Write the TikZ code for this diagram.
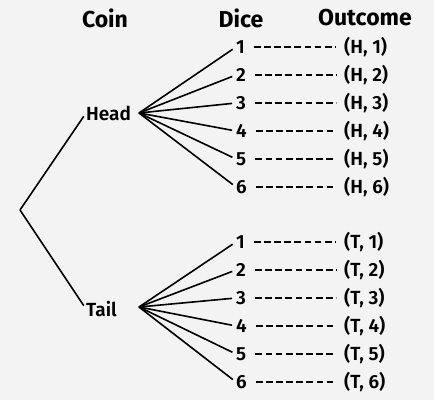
\documentclass[tikz,border=0pt]{standalone}
\usepackage{fontspec}
\setmainfont{Fira Sans}[UprightFont=* SemiBold,BoldFont=* Bold]
\usetikzlibrary{positioning,calc}
\definecolor{paperGray}{RGB}{243,243,243}

\begin{document}
\begin{tikzpicture}[x=1pt,y=-1pt,
    head/.style={font=\bfseries\fontsize{23}{26}\selectfont},
    lbl/.style={font=\fontsize{19}{22}\selectfont,inner sep=0pt},
    branch/.style={line width=1.6pt},
    link/.style={line width=1.4pt,dash pattern=on 6.8pt off 3.3pt}
  ]
    \fill[paperGray] (0,0) rectangle (434,400);

    \node[head] (hcoin) at (105,18) {Coin};
    \node[head] (hdice) at (241,18) {Dice};
    \node[head] (hout) at (365,18) {Outcome};

    \coordinate (root) at (20,210);
    \node[lbl,anchor=west] (heads) at (86,113) {Head};
    \node[lbl,anchor=west] (tails) at (86,309) {Tail};
    \coordinate (hfork) at (139,113);
    \coordinate (tfork) at (139,307);
    \draw[branch,shorten >=4pt] (root) -- (heads.west);
    \draw[branch,shorten >=4pt] (root) -- (tails.west);

    \foreach \i in {1,...,6} {
      \node[lbl,anchor=west] (h\i) at (236,{19+28*\i}) {\i};
      \node[lbl,anchor=west] (oh\i) at (344,{19+28*\i}) {(H, \i)};
      \node[lbl,anchor=west] (t\i) at (236,{214+28*\i}) {\i};
      \node[lbl,anchor=west] (ot\i) at (344,{214+28*\i}) {(T, \i)};
      \draw[branch,shorten >=4pt] (hfork) -- (h\i.west);
      \draw[branch,shorten >=4pt] (tfork) -- (t\i.west);
      \draw[link] ($(h\i.east)+(9,0)$) -- ($(oh\i.west)+(-8,0)$);
      \draw[link] ($(t\i.east)+(9,0)$) -- ($(ot\i.west)+(-8,0)$);
    }
\end{tikzpicture}
\end{document}
